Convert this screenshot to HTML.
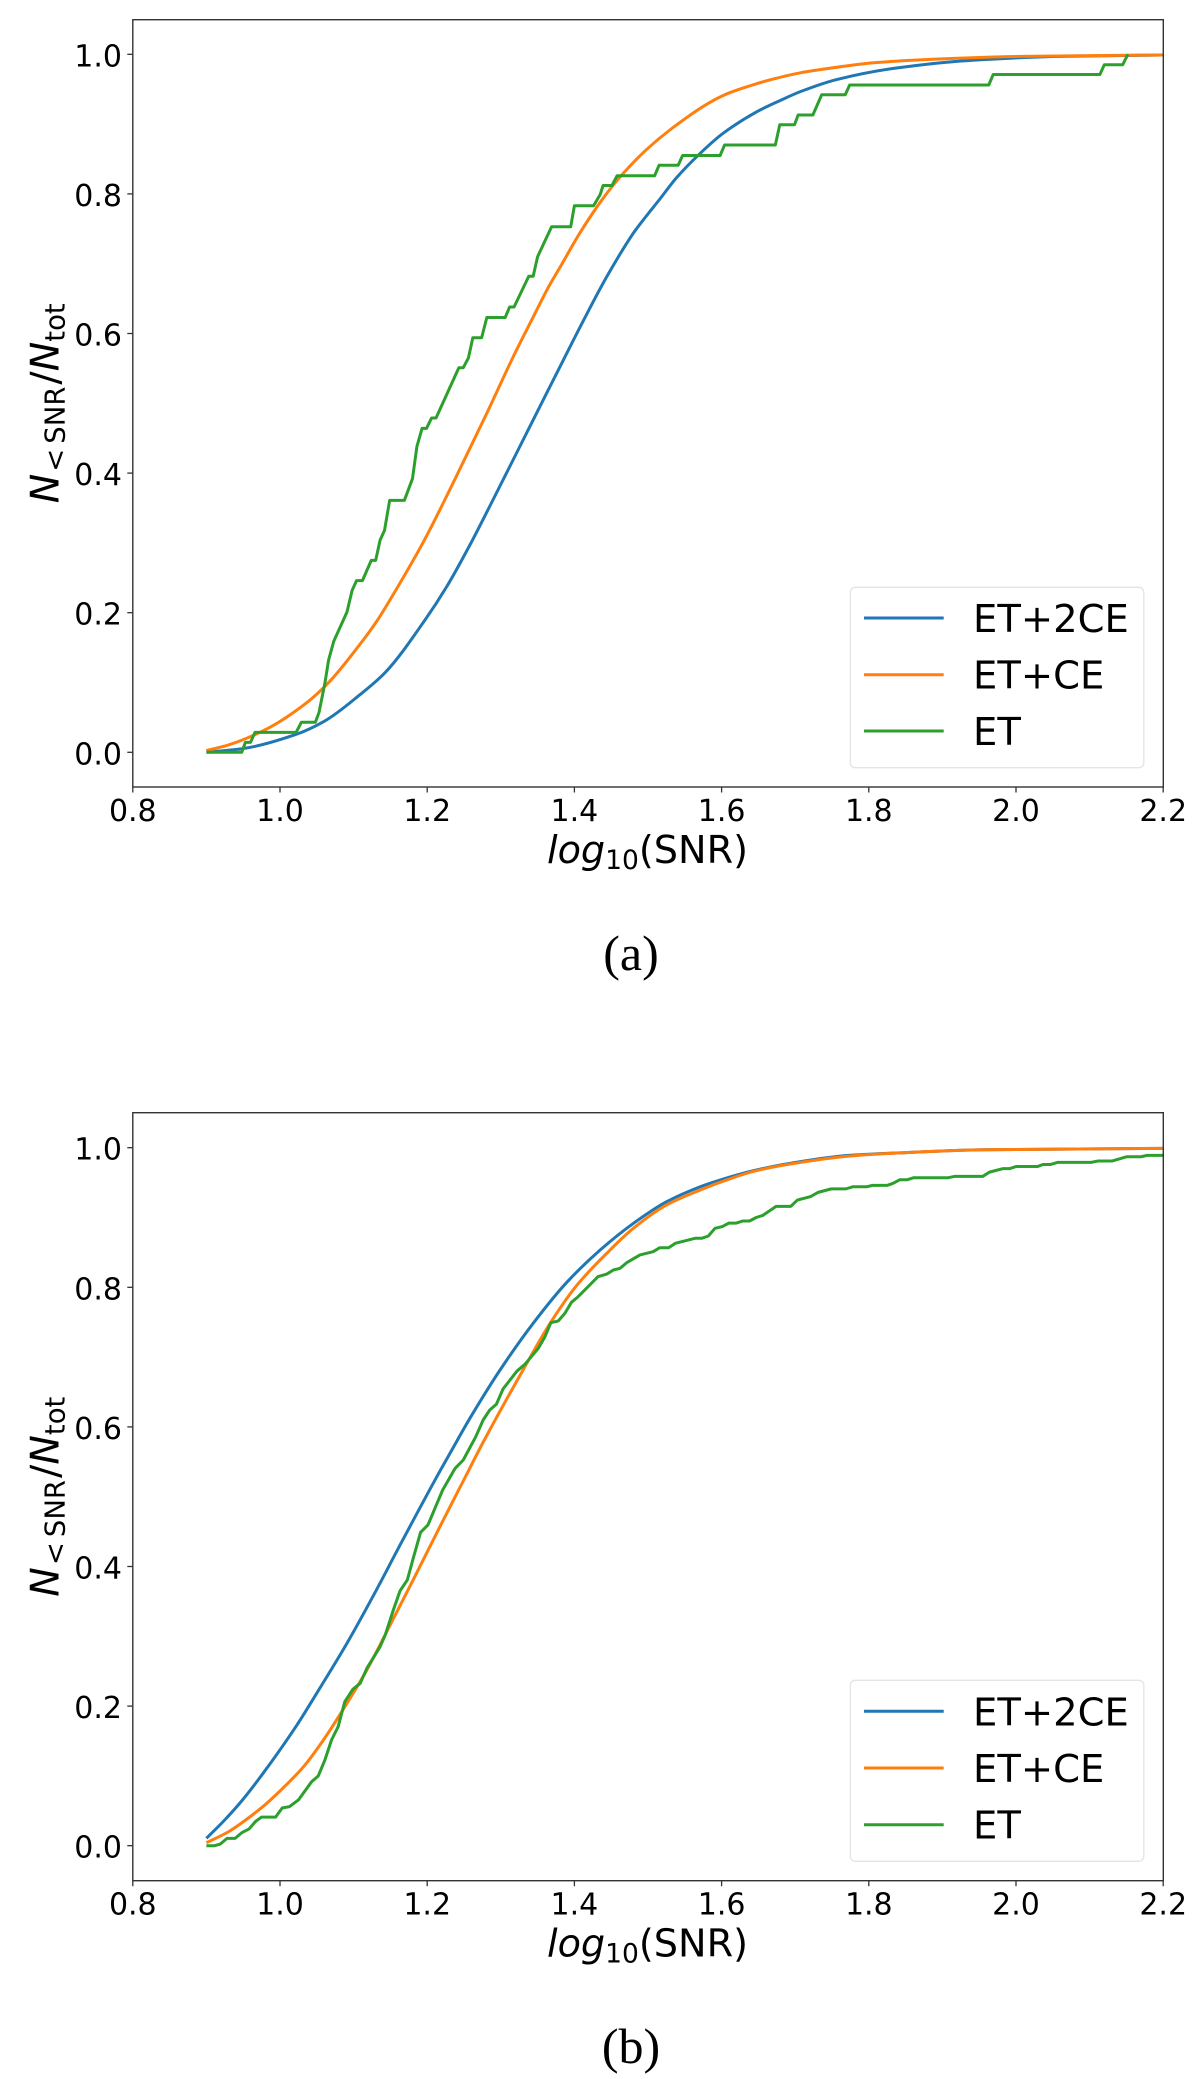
<!DOCTYPE html>
<html lang="en">
<head>
<meta charset="utf-8">
<title>Cumulative SNR distributions</title>
<style>
html,body{margin:0;padding:0;background:#fff;width:1200px;height:2079px;overflow:hidden}
svg{display:block}
text{font-family:"DejaVu Sans","Liberation Sans",sans-serif;fill:#000}
.tick{font-size:30px}
.ttl{font-size:38.2px}
.yttl{font-size:39.5px}
.leg{font-size:38.5px}
.cap{font-family:"Liberation Serif",serif;font-size:50px}
</style>
</head>
<body>
<svg id="fig" xmlns="http://www.w3.org/2000/svg" width="1200" height="2079" viewBox="0 0 1200 2079">
  <defs>
    <clipPath id="clip-a"><rect x="132.8" y="19.7" width="1030.5" height="767.3"/></clipPath>
    <clipPath id="clip-b"><rect x="132.8" y="1112.7" width="1030.5" height="768"/></clipPath>
  </defs>
  <g id="panel-a">
    <g id="marks-a" clip-path="url(#clip-a)"></g>
    <g id="ticks-a"></g>
    <rect x="132.8" y="19.7" width="1030.5" height="767.3" fill="none" stroke="#333" stroke-width="1.4"/>
    <text class="ttl" x="647.5" y="863" text-anchor="middle"><tspan font-style="italic">log</tspan><tspan font-size="26.5" dy="6">10</tspan><tspan dy="-6">(SNR)</tspan></text>
    <text class="yttl" transform="translate(58.5 403.3) rotate(-90)" text-anchor="middle"><tspan font-style="italic">N</tspan><tspan font-size="27.5" dy="6" dx="2">&lt;</tspan><tspan font-size="27.5" dx="5">SNR</tspan><tspan dy="-6" dx="2">/</tspan><tspan font-style="italic">N</tspan><tspan font-size="27.5" dy="6">tot</tspan></text>
    <g>
      <rect x="850.3" y="587.3" width="293.5" height="180.4" rx="5" fill="#fff" stroke="#e4e4e4" stroke-width="1.3"/>
      <line x1="864" x2="943.7" y1="618" y2="618" stroke="#1f77b4" stroke-width="3"/>
      <text class="leg" x="973" y="632">ET+2CE</text>
      <line x1="864" x2="943.7" y1="674.7" y2="674.7" stroke="#ff7f0e" stroke-width="3"/>
      <text class="leg" x="973" y="688.5">ET+CE</text>
      <line x1="864" x2="943.7" y1="731" y2="731" stroke="#2ca02c" stroke-width="3"/>
      <text class="leg" x="973" y="745">ET</text>
    </g>
    <text class="cap" x="631" y="970" text-anchor="middle">(a)</text>
  </g>
  <g id="panel-b">
    <g id="marks-b" clip-path="url(#clip-b)"></g>
    <g id="ticks-b"></g>
    <rect x="132.8" y="1112.7" width="1030.5" height="768" fill="none" stroke="#333" stroke-width="1.4"/>
    <text class="ttl" x="647.5" y="1956.7" text-anchor="middle"><tspan font-style="italic">log</tspan><tspan font-size="26.5" dy="6">10</tspan><tspan dy="-6">(SNR)</tspan></text>
    <text class="yttl" transform="translate(58.5 1496.7) rotate(-90)" text-anchor="middle"><tspan font-style="italic">N</tspan><tspan font-size="27.5" dy="6" dx="2">&lt;</tspan><tspan font-size="27.5" dx="5">SNR</tspan><tspan dy="-6" dx="2">/</tspan><tspan font-style="italic">N</tspan><tspan font-size="27.5" dy="6">tot</tspan></text>
    <g>
      <rect x="850.3" y="1680.3" width="293.5" height="181" rx="5" fill="#fff" stroke="#e4e4e4" stroke-width="1.3"/>
      <line x1="864" x2="943.7" y1="1711.3" y2="1711.3" stroke="#1f77b4" stroke-width="3"/>
      <text class="leg" x="973" y="1725.3">ET+2CE</text>
      <line x1="864" x2="943.7" y1="1768" y2="1768" stroke="#ff7f0e" stroke-width="3"/>
      <text class="leg" x="973" y="1782">ET+CE</text>
      <line x1="864" x2="943.7" y1="1824.7" y2="1824.7" stroke="#2ca02c" stroke-width="3"/>
      <text class="leg" x="973" y="1838.7">ET</text>
    </g>
    <text class="cap" x="631" y="2063" text-anchor="middle">(b)</text>
  </g>
</svg>
<script>
const xTickValues = [0.8, 1.0, 1.2, 1.4, 1.6, 1.8, 2.0, 2.2];
const yTickValues = [0.0, 0.2, 0.4, 0.6, 0.8, 1.0];

const aEt2ceX = [0.9,0.952,1.02,1.061,1.108,1.144,1.197,1.2265,1.258,1.285,1.317,1.358,1.385,1.412,1.444,1.48,1.496,1.516,1.539,1.571,1.602,1.648,1.679,1.707,1.757,1.835,1.934,2.059,2.2];
const aEt2ceY = [0,0.0057,0.025,0.045,0.082,0.1155,0.1895,0.2373,0.297,0.3525,0.4195,0.5055,0.562,0.618,0.6814,0.7436,0.766,0.7925,0.8235,0.8582,0.8868,0.9178,0.9335,0.9465,0.964,0.98,0.991,0.997,0.999];

const aEtceX = [0.9,0.93,0.983,1.035,1.067,1.111,1.131,1.149,1.195,1.235,1.281,1.317,1.344,1.365,1.38,1.408,1.439,1.466,1.498,1.534,1.584,1.611,1.648,1.67,1.707,1.747,1.809,1.887,2.007,2.2];
const aEtceY = [0.0024,0.0105,0.034,0.07,0.101,0.158,0.187,0.2175,0.3017,0.3854,0.4857,0.5669,0.6235,0.667,0.694,0.745,0.7937,0.829,0.8635,0.895,0.931,0.945,0.958,0.9645,0.9735,0.98,0.988,0.993,0.997,0.999];

const aEtX = [0.9,0.948,0.953,0.96,0.966,1.022,1.029,1.048,1.053,1.061,1.066,1.073,1.091,1.098,1.104,1.112,1.124,1.13,1.136,1.142,1.149,1.169,1.18,1.186,1.193,1.199,1.206,1.212,1.243,1.249,1.256,1.262,1.274,1.281,1.306,1.312,1.318,1.338,1.344,1.35,1.369,1.395,1.4,1.426,1.435,1.439,1.451,1.458,1.509,1.515,1.541,1.547,1.598,1.604,1.673,1.679,1.699,1.704,1.724,1.736,1.768,1.774,1.963,1.969,2.114,2.12,2.145,2.152];
const aEtY = [0,0,0.0143,0.0143,0.0286,0.0286,0.043,0.043,0.057,0.099,0.132,0.159,0.201,0.232,0.246,0.246,0.275,0.275,0.304,0.318,0.361,0.361,0.392,0.438,0.464,0.464,0.479,0.479,0.551,0.551,0.565,0.594,0.594,0.623,0.623,0.638,0.638,0.682,0.682,0.71,0.753,0.753,0.783,0.783,0.799,0.812,0.812,0.826,0.826,0.841,0.841,0.855,0.855,0.87,0.87,0.899,0.899,0.913,0.913,0.942,0.942,0.956,0.956,0.971,0.971,0.985,0.985,1.0];

const bEt2ceX = [0.9,0.925,0.949,0.977,1.023,1.054,1.091,1.127,1.163,1.213,1.231,1.258,1.299,1.344,1.39,1.435,1.48,1.525,1.571,1.598,1.643,1.695,1.773,1.851,1.955,2.2];
const bEt2ceY = [0.0105,0.037,0.0655,0.1037,0.1729,0.2255,0.29,0.3585,0.4305,0.5285,0.5622,0.6123,0.6815,0.7484,0.8075,0.8534,0.8915,0.9225,0.9441,0.9537,0.967,0.978,0.989,0.993,0.997,0.999];

const bEtceX = [0.9,0.93,0.971,0.987,1.032,1.059,1.086,1.118,1.145,1.181,1.217,1.249,1.276,1.331,1.367,1.403,1.444,1.48,1.525,1.571,1.598,1.643,1.695,1.773,1.851,1.955,2.2];
const bEtceY = [0.0043,0.02,0.051,0.0655,0.1132,0.1514,0.1955,0.2517,0.3066,0.381,0.4565,0.5225,0.578,0.683,0.7484,0.8025,0.8487,0.8845,0.9179,0.9394,0.9504,0.966,0.977,0.988,0.993,0.997,0.999];

const bEtX = [0.9,0.911,0.919,0.928,0.939,0.948,0.958,0.967,0.975,0.994,1.003,1.013,1.025,1.043,1.052,1.061,1.07,1.079,1.088,1.099,1.109,1.118,1.136,1.143,1.154,1.163,1.173,1.181,1.191,1.201,1.221,1.238,1.249,1.266,1.276,1.285,1.294,1.303,1.322,1.333,1.351,1.36,1.368,1.378,1.387,1.396,1.405,1.414,1.432,1.444,1.453,1.462,1.471,1.489,1.507,1.516,1.528,1.537,1.564,1.573,1.582,1.591,1.601,1.61,1.62,1.629,1.638,1.647,1.656,1.674,1.694,1.703,1.721,1.731,1.749,1.769,1.778,1.797,1.805,1.825,1.833,1.842,1.852,1.861,1.908,1.917,1.955,1.964,1.982,1.991,2.0,2.029,2.037,2.047,2.057,2.102,2.112,2.131,2.15,2.17,2.178,2.2];
const bEtY = [0,0,0.0024,0.0105,0.0105,0.0186,0.024,0.035,0.041,0.041,0.054,0.056,0.0655,0.0917,0.0999,0.1228,0.1514,0.1705,0.2063,0.2241,0.2327,0.2541,0.2851,0.3019,0.3377,0.3649,0.3807,0.4117,0.449,0.4595,0.5096,0.5407,0.5526,0.586,0.6099,0.6242,0.6324,0.6543,0.68,0.69,0.7126,0.7292,0.7493,0.7517,0.7627,0.7785,0.7865,0.796,0.8152,0.819,0.8248,0.8272,0.8352,0.8463,0.851,0.8567,0.8567,0.863,0.8702,0.8702,0.8735,0.8845,0.887,0.892,0.892,0.895,0.895,0.9,0.903,0.916,0.916,0.925,0.93,0.936,0.941,0.941,0.944,0.944,0.946,0.946,0.949,0.954,0.954,0.957,0.957,0.959,0.959,0.965,0.97,0.97,0.973,0.973,0.976,0.976,0.979,0.979,0.981,0.981,0.987,0.987,0.989,0.989];

const NS = 'http://www.w3.org/2000/svg';

function xScale(v) { return 132.8 + (v - 0.8) * 736; }
function yScaleA(v) { return 752.3 - v * 698; }
function yScaleB(v) { return 1845.7 - v * 698; }

function smoothPath(xs, ys, yScale) {
  const px = xs.map(xScale);
  const py = ys.map(yScale);
  const n = px.length;
  const d = [];
  for (let i = 0; i < n - 1; i++) { d.push((py[i + 1] - py[i]) / (px[i + 1] - px[i])); }
  const m = [d[0]];
  for (let i = 1; i < n - 1; i++) {
    m.push(d[i - 1] * d[i] <= 0 ? 0 : 2 * d[i - 1] * d[i] / (d[i - 1] + d[i]));
  }
  m.push(d[n - 2]);
  let out = 'M' + px[0].toFixed(2) + ' ' + py[0].toFixed(2);
  for (let i = 0; i < n - 1; i++) {
    const h = (px[i + 1] - px[i]) / 3;
    out += ' C' + (px[i] + h).toFixed(2) + ' ' + (py[i] + m[i] * h).toFixed(2) + ' ' +
      (px[i + 1] - h).toFixed(2) + ' ' + (py[i + 1] - m[i + 1] * h).toFixed(2) + ' ' +
      px[i + 1].toFixed(2) + ' ' + py[i + 1].toFixed(2);
  }
  return out;
}

function drawSmooth(groupId, xs, ys, yScale, color, name) {
  const el = document.createElementNS(NS, 'path');
  
  
  el.setAttribute('d', smoothPath(xs, ys, yScale));
  el.setAttribute('fill', 'none');
  el.setAttribute('stroke', color);
  el.setAttribute('stroke-width', '3');
  el.setAttribute('stroke-linejoin', 'round');
  document.getElementById(groupId).appendChild(el);
}

function drawSteps(groupId, xs, ys, yScale, color, name) {
  const el = document.createElementNS(NS, 'polyline');
  
  
  el.setAttribute('points', xs.map(function (x, i) { return xScale(x).toFixed(2) + ',' + yScale(ys[i]).toFixed(2); }).join(' '));
  el.setAttribute('fill', 'none');
  el.setAttribute('stroke', color);
  el.setAttribute('stroke-width', '3');
  el.setAttribute('stroke-linejoin', 'round');
  document.getElementById(groupId).appendChild(el);
}

function drawTicks(groupId, yScale, bottom) {
  const g = document.getElementById(groupId);
  xTickValues.forEach(function (v) {
    const px = xScale(v);
    const t = document.createElementNS(NS, 'line');
    
    
    t.setAttribute('x1', px);
    t.setAttribute('x2', px);
    t.setAttribute('y1', bottom);
    t.setAttribute('y2', bottom + 5.5);
    t.setAttribute('stroke', '#333');
    t.setAttribute('stroke-width', '1.3');
    g.appendChild(t);
    const l = document.createElementNS(NS, 'text');
    
    
    l.setAttribute('class', 'tick');
    l.setAttribute('x', px);
    l.setAttribute('y', bottom + 34);
    l.setAttribute('text-anchor', 'middle');
    l.textContent = v.toFixed(1);
    g.appendChild(l);
  });
  yTickValues.forEach(function (v) {
    const py = yScale(v);
    const t = document.createElementNS(NS, 'line');
    
    
    t.setAttribute('x1', 127.3);
    t.setAttribute('x2', 132.8);
    t.setAttribute('y1', py);
    t.setAttribute('y2', py);
    t.setAttribute('stroke', '#333');
    t.setAttribute('stroke-width', '1.3');
    g.appendChild(t);
    const l = document.createElementNS(NS, 'text');
    
    
    l.setAttribute('class', 'tick');
    l.setAttribute('x', 122);
    l.setAttribute('y', py + 12);
    l.setAttribute('text-anchor', 'end');
    l.textContent = v.toFixed(1);
    g.appendChild(l);
  });
}

drawSmooth('marks-a', aEt2ceX, aEt2ceY, yScaleA, '#1f77b4', 'line-et2ce-a');
drawSmooth('marks-a', aEtceX, aEtceY, yScaleA, '#ff7f0e', 'line-etce-a');
drawSteps('marks-a', aEtX, aEtY, yScaleA, '#2ca02c', 'line-et-a');
drawSmooth('marks-b', bEt2ceX, bEt2ceY, yScaleB, '#1f77b4', 'line-et2ce-b');
drawSmooth('marks-b', bEtceX, bEtceY, yScaleB, '#ff7f0e', 'line-etce-b');
drawSteps('marks-b', bEtX, bEtY, yScaleB, '#2ca02c', 'line-et-b');
drawTicks('ticks-a', yScaleA, 787);
drawTicks('ticks-b', yScaleB, 1880.7);
</script>
</body>
</html>
